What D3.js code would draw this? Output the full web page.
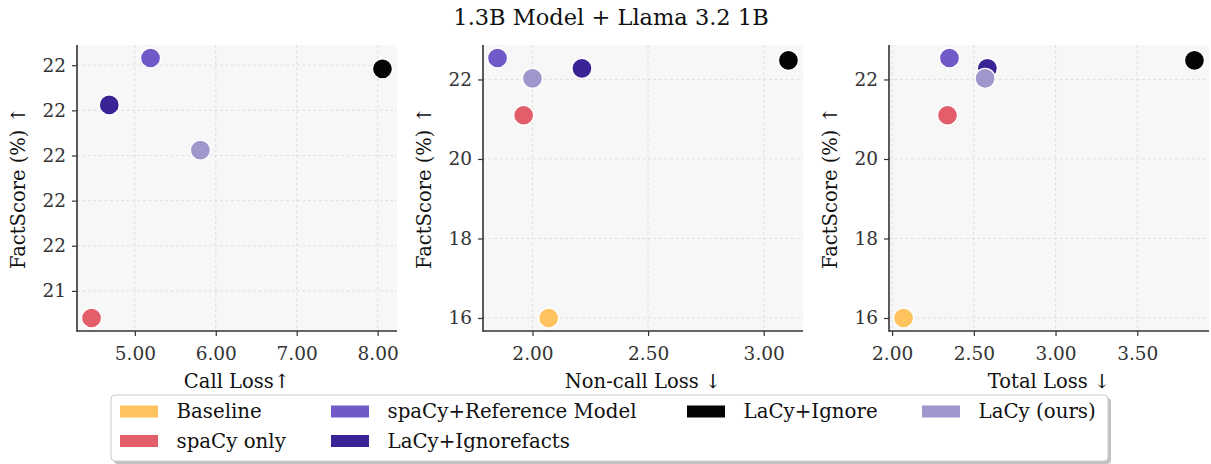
<!DOCTYPE html>
<html><head><meta charset="utf-8">
<script src="https://cdn.jsdelivr.net/npm/d3@7"></script>
<style>
body{margin:0;background:#fff;}
svg{display:block;font-family:"DejaVu Serif",serif;}
</style></head>
<body><svg id="c" width="1211" height="464"></svg>
<script>
const methods = ["Baseline","spaCy only","spaCy+Reference Model","LaCy+Ignorefacts","LaCy+Ignore","LaCy (ours)"];
const colors = ["#fec25e","#e35e6b","#715ac8","#3a2395","#050508","#a196cb"];
const factScore = [16.0, 21.1, 22.54, 22.28, 22.48, 22.03];
const callLoss = [null, 4.465, 5.194, 4.684, 8.06, 5.81];
const nonCallLoss = [2.07, 1.962, 1.849, 2.214, 3.107, 2.0];
const totalLoss = [2.07, 2.339, 2.351, 2.583, 3.85, 2.569];

const p1YTicks = [21.25, 21.5, 21.75, 22.0, 22.25, 22.5];
const p1YTickLabels = ["21","22","22","22","22","22"];
const fsTicks = [16, 18, 20, 22];
const p1XTicks = [5, 6, 7, 8];
const p2XTicks = [2.0, 2.5, 3.0];
const p3XTicks = [2.0, 2.5, 3.0, 3.5];

const title = "1.3B Model + Llama 3.2 1B";
const panels = [
  {x: callLoss, xTicks: p1XTicks, yTicks: p1YTicks, yLabels: p1YTickLabels, xLabel: "Call Loss\u2191", left: 77},
  {x: nonCallLoss, xTicks: p2XTicks, yTicks: fsTicks, yLabels: null, xLabel: "Non-call Loss \u2193", left: 483},
  {x: totalLoss, xTicks: p3XTicks, yTicks: fsTicks, yLabels: null, xLabel: "Total Loss \u2193", left: 889}
];

const svg = d3.select("#c");
const W = 320, plotTop = 45, plotBottom = 331;
const axisCol = "#333", tickFont = 18.5, labFont = 19.5;

svg.append("text").attr("x", 611).attr("y", 25).attr("text-anchor","middle")
  .attr("font-size", 22.5).attr("fill","#111").text(title);

function padDomain(vals){
  const e = d3.extent(vals); const r = e[1]-e[0];
  return [e[0]-0.05*r, e[1]+0.05*r];
}

panels.forEach(p => {
  const idx = methods.map((m,i)=>i).filter(i => p.x[i] != null);
  const x = d3.scaleLinear().domain(padDomain(idx.map(i=>p.x[i]))).range([p.left, p.left+W]);
  const y = d3.scaleLinear().domain(padDomain(idx.map(i=>factScore[i]))).range([plotBottom, plotTop]);
  const g = svg.append("g");
  g.append("rect").attr("x", p.left).attr("y", plotTop).attr("width", W).attr("height", plotBottom-plotTop).attr("fill","#f7f7f7");
  g.selectAll(".gx").data(p.xTicks).join("line")
    .attr("x1", d=>x(d)).attr("x2", d=>x(d)).attr("y1", plotTop).attr("y2", plotBottom)
    .attr("stroke","#d9d9d9").attr("stroke-width",0.8).attr("stroke-dasharray","3,2.5");
  g.selectAll(".gy").data(p.yTicks).join("line")
    .attr("y1", d=>y(d)).attr("y2", d=>y(d)).attr("x1", p.left).attr("x2", p.left+W)
    .attr("stroke","#d9d9d9").attr("stroke-width",0.8).attr("stroke-dasharray","3,2.5");
  const xa = g.append("g").attr("transform",`translate(0,${plotBottom})`)
    .call(d3.axisBottom(x).tickValues(p.xTicks).tickFormat(d3.format(".2f")).tickSize(5).tickSizeOuter(0).tickPadding(6));
  const ya = g.append("g").attr("transform",`translate(${p.left},0)`)
    .call(d3.axisLeft(y).tickValues(p.yTicks).tickFormat((d,i)=> p.yLabels ? p.yLabels[i] : d3.format(".0f")(d)).tickSize(5).tickSizeOuter(0).tickPadding(6));
  [xa, ya].forEach(a => {
    a.select(".domain").remove();
    a.selectAll("line").attr("stroke", axisCol).attr("stroke-width",1.2);
    a.selectAll("text").attr("font-size", tickFont).attr("fill","#333").attr("font-family","DejaVu Serif");
  });
  xa.selectAll("text").attr("dy","0.95em");
  g.append("line").attr("x1",p.left).attr("x2",p.left).attr("y1",plotTop).attr("y2",plotBottom+0.8).attr("stroke",axisCol).attr("stroke-width",1.6);
  g.append("line").attr("x1",p.left).attr("x2",p.left+W).attr("y1",plotBottom).attr("y2",plotBottom).attr("stroke",axisCol).attr("stroke-width",1.6);
  g.append("text").attr("x", p.left+W/2).attr("y", 388).attr("text-anchor","middle")
    .attr("font-size", labFont).attr("fill","#111").text(p.xLabel);
  g.append("text").attr("transform",`translate(${p.left-52},${(plotTop+plotBottom)/2}) rotate(-90)`)
    .attr("text-anchor","middle").attr("font-size", labFont).attr("fill","#111").text("FactScore (%) \u2191");
  g.selectAll("circle").data(idx).join("circle")
    .attr("cx", i=>x(p.x[i])).attr("cy", i=>y(factScore[i])).attr("r", 10)
    .attr("fill", i=>colors[i]).attr("stroke","#fff").attr("stroke-width",1.3);
});

const lg = svg.append("g");
lg.append("rect").attr("x",114).attr("y",398).attr("width",997).attr("height",66).attr("rx",4)
  .attr("fill","#999").attr("opacity",0.6);
lg.append("rect").attr("x",111).attr("y",395).attr("width",997).attr("height",66).attr("rx",4)
  .attr("fill","#fff").attr("stroke","#ccc").attr("stroke-width",1);
const colX = [120, 331, 687, 922];
const rowY = [411.5, 441];
const legCol = [0, 0, 1, 1, 2, 3];
const legRow = [0, 1, 0, 1, 0, 0];
methods.forEach((m,i) => {
  const c = legCol[i], r = legRow[i];
  lg.append("rect").attr("x", colX[c]).attr("y", rowY[r]-6).attr("width",38).attr("height",12).attr("fill",colors[i]);
  lg.append("text").attr("x", colX[c]+56.5).attr("y", rowY[r]).attr("dy","0.35em")
    .attr("font-size", 19.8).attr("fill","#111").text(m);
});
</script></body></html>
